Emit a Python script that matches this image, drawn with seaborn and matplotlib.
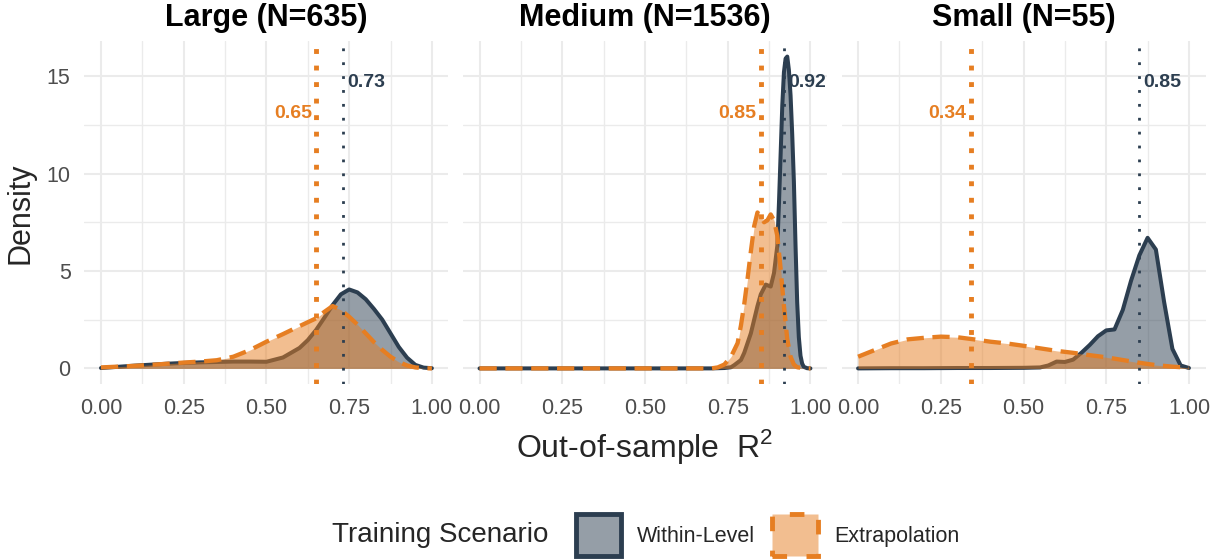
import matplotlib
matplotlib.use("Agg")
import matplotlib.pyplot as plt
from matplotlib.patches import Patch
from matplotlib.ticker import MultipleLocator
import seaborn as sns
import pandas as pd

# ---- data (density curves per panel) ----
panels = ["Large", "Medium", "Small"]
panel_n = [635, 1536, 55]
scenarios = ["Within-Level", "Extrapolation"]

large_within_x = [0, 0.05, 0.1, 0.15, 0.2, 0.25, 0.3, 0.35, 0.4, 0.45, 0.5, 0.55, 0.6, 0.625, 0.65,
                  0.675, 0.7, 0.725, 0.75, 0.775, 0.8, 0.825, 0.85, 0.875, 0.9, 0.925, 0.95, 0.975, 1.0]
large_within_y = [0.02, 0.08, 0.14, 0.19, 0.24, 0.28, 0.31, 0.33, 0.35, 0.35, 0.34, 0.56, 1.05, 1.45, 1.97,
                  2.6, 3.25, 3.8, 4.05, 3.9, 3.55, 3.05, 2.5, 1.8, 1.1, 0.55, 0.18, 0.04, 0.01]
large_extra_x = [0, 0.05, 0.1, 0.15, 0.2, 0.25, 0.3, 0.35, 0.4, 0.45, 0.5, 0.55, 0.6, 0.625, 0.65,
                 0.675, 0.7, 0.725, 0.75, 0.775, 0.8, 0.825, 0.85, 0.875, 0.9, 0.925, 0.95, 0.975, 1.0]
large_extra_y = [0.05, 0.09, 0.13, 0.18, 0.24, 0.3, 0.35, 0.42, 0.6, 0.94, 1.37, 1.76, 2.17, 2.37, 2.57,
                 2.9, 3.2, 3.0, 2.65, 2.25, 1.8, 1.35, 0.95, 0.6, 0.33, 0.15, 0.05, 0.01, 0.0]

medium_within_x = [0, 0.1, 0.2, 0.3, 0.4, 0.5, 0.6, 0.7, 0.72, 0.74, 0.76, 0.77, 0.79, 0.8, 0.81, 0.82,
                   0.83, 0.84, 0.85, 0.865, 0.88, 0.89, 0.9, 0.905, 0.91, 0.915, 0.92, 0.925, 0.93,
                   0.935, 0.94, 0.945, 0.95, 0.955, 0.96, 0.965, 0.97, 0.975, 0.98, 0.99, 1.0]
medium_within_y = [0, 0, 0, 0, 0, 0, 0, 0, 0.01, 0.02, 0.06, 0.17, 0.43, 0.8, 1.3, 1.8,
                   2.5, 3.2, 3.8, 4.3, 4.2, 4.9, 6.3, 8.5, 11.0, 13.5, 15.2, 15.9, 16.0,
                   15.3, 14.0, 12.0, 9.6, 6.3, 3.4, 1.6, 0.65, 0.25, 0.08, 0.01, 0.0]
medium_extra_x = [0, 0.1, 0.2, 0.3, 0.4, 0.5, 0.6, 0.7, 0.72, 0.74, 0.76, 0.78, 0.79, 0.8, 0.81, 0.82,
                  0.83, 0.84, 0.85, 0.86, 0.87, 0.88, 0.89, 0.9, 0.91, 0.92, 0.93, 0.94, 0.95, 0.96,
                  0.98, 1.0]
medium_extra_y = [0, 0, 0, 0, 0, 0, 0, 0, 0.05, 0.2, 0.6, 1.3, 2.2, 3.3, 4.6, 6.0,
                  7.3, 8.0, 7.8, 7.5, 7.6, 7.9, 7.6, 6.8, 5.1, 3.2, 1.5, 0.6, 0.2, 0.06,
                  0.01, 0.0]

small_within_x = [0, 0.1, 0.2, 0.3, 0.4, 0.5, 0.55, 0.575, 0.6, 0.625, 0.65, 0.675, 0.7, 0.725, 0.75,
                  0.775, 0.8, 0.825, 0.85, 0.875, 0.9, 0.925, 0.95, 0.975, 1.0]
small_within_y = [0.0, 0.01, 0.01, 0.02, 0.02, 0.03, 0.05, 0.15, 0.35, 0.33, 0.45, 0.8, 1.2, 1.65, 1.95,
                  2.0, 3.0, 4.5, 5.8, 6.7, 6.1, 3.4, 1.0, 0.15, 0.02]
small_extra_x = [0, 0.05, 0.1, 0.15, 0.2, 0.25, 0.3, 0.35, 0.4, 0.45, 0.5, 0.55, 0.6, 0.65, 0.7,
                 0.75, 0.8, 0.85, 0.9, 0.95, 1.0]
small_extra_y = [0.6, 0.94, 1.28, 1.49, 1.57, 1.63, 1.6, 1.49, 1.37, 1.28, 1.16, 1.03, 0.9, 0.8, 0.68,
                 0.57, 0.43, 0.29, 0.17, 0.09, 0.03]

# mean R^2 per panel
mean_within = [0.73, 0.92, 0.85]
mean_extra = [0.65, 0.85, 0.34]

curves = {
    ("Large", "Within-Level"): (large_within_x, large_within_y),
    ("Large", "Extrapolation"): (large_extra_x, large_extra_y),
    ("Medium", "Within-Level"): (medium_within_x, medium_within_y),
    ("Medium", "Extrapolation"): (medium_extra_x, medium_extra_y),
    ("Small", "Within-Level"): (small_within_x, small_within_y),
    ("Small", "Extrapolation"): (small_extra_x, small_extra_y),
}
rows = []
for (p, s), (xs, ys) in curves.items():
    for xv, yv in zip(xs, ys):
        rows.append({"panel": p, "scenario": s, "r2": xv, "density": yv})
df = pd.DataFrame(rows)

NAVY = "#2C3E50"
ORANGE = "#E67E22"
colors = {"Within-Level": NAVY, "Extrapolation": ORANGE}
styles = {"Within-Level": "-", "Extrapolation": (0, (4.0, 2.0))}
widths = {"Within-Level": 2.9, "Extrapolation": 3.1}

sns.set_theme(style="whitegrid")
plt.rcParams["font.family"] = ["Liberation Sans", "DejaVu Sans"]
plt.rcParams["mathtext.fontset"] = "custom"
plt.rcParams["mathtext.rm"] = "Liberation Sans"

fig, axes = plt.subplots(1, 3, figsize=(12.22, 5.6), dpi=100, sharey=True)
fig.subplots_adjust(left=0.0691, right=0.9865, bottom=0.3143, top=0.9268, wspace=0.04)

for i, (ax, p) in enumerate(zip(axes, panels)):
    z = 2
    for s in scenarios:
        sub = df[(df.panel == p) & (df.scenario == s)]
        ax.fill_between(sub.r2, sub.density, color=colors[s], alpha=0.5, linewidth=0, zorder=z)
        sns.lineplot(data=sub, x="r2", y="density", color=colors[s], linewidth=widths[s],
                     linestyle=styles[s], ax=ax, zorder=z + 0.5, estimator=None, sort=False)
        z += 1
    ax.axvline(mean_extra[i], color=ORANGE, linewidth=3.5, linestyle=(0, (1.0, 2.4)), zorder=6)
    ax.axvline(mean_within[i], color=NAVY, linewidth=2.0, linestyle=(0, (1.0, 4.0)), zorder=6)
    ax.text(mean_within[i] + 0.013, 14.65, f"{mean_within[i]:.2f}", color=NAVY, fontsize=14,
            fontweight="bold", ha="left", va="center", zorder=7)
    ax.text(mean_extra[i] - 0.013, 13.1, f"{mean_extra[i]:.2f}", color=ORANGE, fontsize=14,
            fontweight="bold", ha="right", va="center", zorder=7)

    ax.text(0.5, 1.0437, f"{p} (N={panel_n[i]})", transform=ax.transAxes, ha="center", va="baseline",
            fontsize=22, fontweight="bold", color="black")
    ax.set_xlim(-0.05, 1.05)
    ax.set_ylim(-0.8, 16.8)
    ax.xaxis.set_major_locator(MultipleLocator(0.25))
    ax.xaxis.set_minor_locator(MultipleLocator(0.125))
    ax.yaxis.set_major_locator(MultipleLocator(5))
    ax.yaxis.set_minor_locator(MultipleLocator(2.5))
    ax.set_xticks([0, 0.25, 0.5, 0.75, 1.0])
    ax.set_xticklabels(["0.00", "0.25", "0.50", "0.75", "1.00"])
    ax.grid(which="major", color="#EBEBEB", linewidth=1.5)
    ax.grid(which="minor", color="#EBEBEB", linewidth=1.0)
    ax.tick_params(which="both", length=0, labelsize=15.5, labelcolor="#4D4D4D")
    ax.tick_params(axis="x", pad=10)
    ax.tick_params(axis="y", pad=10)
    ax.set_xlabel("")
    ax.set_ylabel("")
    ax.set_facecolor("white")
    for sp in ax.spines.values():
        sp.set_visible(False)

fig.text(21 / 1222, 1 - 213 / 560, "Density", rotation=90, ha="center", va="center", fontsize=22)
fig.text(645 / 1222, 1 - 457 / 560, r"Out-of-sample  R$^2$", ha="center", va="baseline", fontsize=23)

handles = [
    Patch(facecolor=(0x2C / 255, 0x3E / 255, 0x50 / 255, 0.5), edgecolor=NAVY, linewidth=3.5),
    Patch(facecolor=(0xE6 / 255, 0x7E / 255, 0x22 / 255, 0.5), edgecolor=ORANGE, linewidth=3.5,
          linestyle=(0, (3.0, 4.0))),
]
fig.text(332 / 1222, 1 - 535 / 560, "Training Scenario", ha="left", va="center", fontsize=20)
fig.legend(handles, scenarios, loc="center left", bbox_to_anchor=(565 / 1222, 1 - 535 / 560),
           ncol=2, frameon=False, fontsize=15.5, handlelength=2.1, handleheight=2.6,
           handletextpad=0.75, columnspacing=0.8, borderpad=0)

fig.savefig("out.png", dpi=100)
